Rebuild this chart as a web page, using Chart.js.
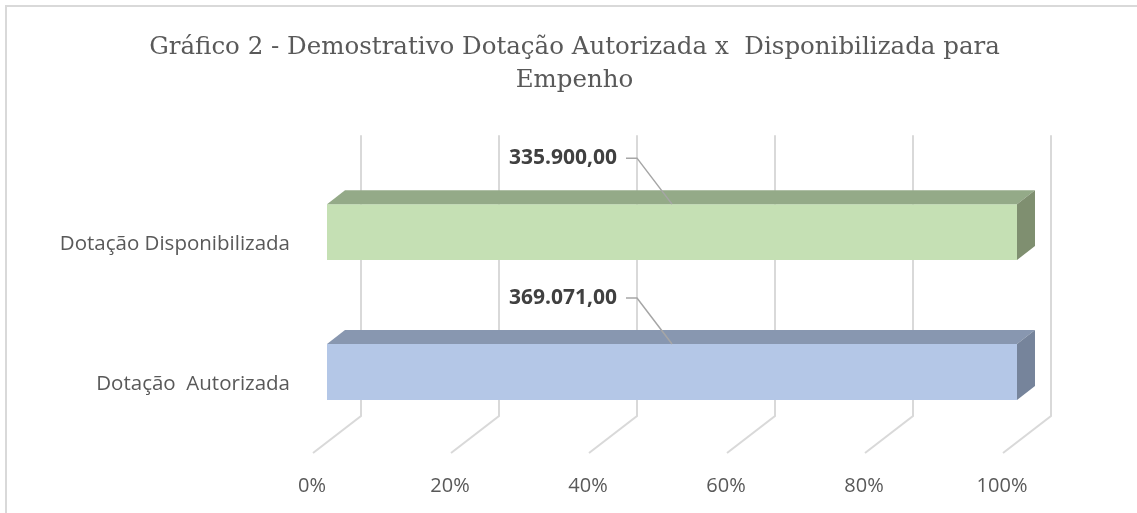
<!DOCTYPE html>
<html>
<head>
<meta charset="utf-8">
<script src="https://cdn.jsdelivr.net/npm/chart.js@4"></script>
<style>
  body { margin: 0; background: #fff; }
  #wrap { width: 1137px; height: 513px; }
</style>
</head>
<body>
<div id="wrap"><canvas id="grafico"></canvas></div>
<script>
// dados
const categorias = ['Dotação Disponibilizada', 'Dotação  Autorizada'];
const valores = [335900, 369071];
const totais = valores.slice(); // 100% empilhado, uma série por categoria
const percentuais = valores.map((v, i) => v / totais[i] * 100);
const ticksX = [0, 20, 40, 60, 80, 100];

const corFrente = ['#c5e0b4', '#b4c7e7'];
const corTopo = ['#94aa88', '#8897b0'];
const corLado = ['#7f8f70', '#76849b'];

// profundidade 3D
const DX = 18, DY = -14;

function formatarBR(v) {
    let partes = v.toFixed(2).split('.');
    partes[0] = partes[0].replace(/\B(?=(\d{3})+(?!\d))/g, '.');
    return partes.join(',');
}

let moldura = {
    id: 'moldura',
    beforeDraw(chart) {
        let ctx = chart.ctx;
        ctx.save();
        ctx.fillStyle = '#ffffff';
        ctx.fillRect(0, 0, chart.width, chart.height);
        ctx.strokeStyle = '#d9d9d9';
        ctx.lineWidth = 2;
        ctx.beginPath();
        ctx.moveTo(6, chart.height);
        ctx.lineTo(6, 6);
        ctx.lineTo(chart.width, 6);
        ctx.stroke();
        ctx.restore();
    }
};

let grade3d = {
    id: 'grade3d',
    beforeDatasetsDraw(chart) {
        let ctx = chart.ctx;
        let area = chart.chartArea;
        let x = chart.scales.x;
        ctx.save();
        ctx.strokeStyle = '#d9d9d9';
        ctx.lineWidth = 2;
        x.ticks.forEach(t => {
            let px = x.getPixelForValue(t.value);
            ctx.beginPath();
            ctx.moveTo(px + 34, area.top - 27);
            ctx.lineTo(px + 34, area.bottom - 26);
            ctx.lineTo(px - 14, area.bottom + 11);
            ctx.stroke();
        });
        ctx.restore();
    }
};

let barras3d = {
    id: 'barras3d',
    afterDatasetsDraw(chart) {
        let ctx = chart.ctx;
        let meta = chart.getDatasetMeta(0);
        ctx.save();
        meta.data.forEach((bar, i) => {
            let left = bar.base, right = bar.x;
            let top = bar.y - bar.height / 2, bottom = bar.y + bar.height / 2;
            // topo
            ctx.fillStyle = corTopo[i];
            ctx.beginPath();
            ctx.moveTo(left, top);
            ctx.lineTo(left + DX, top + DY);
            ctx.lineTo(right + DX, top + DY);
            ctx.lineTo(right, top);
            ctx.closePath();
            ctx.fill();
            // lado
            ctx.fillStyle = corLado[i];
            ctx.beginPath();
            ctx.moveTo(right, top);
            ctx.lineTo(right + DX, top + DY);
            ctx.lineTo(right + DX, bottom + DY);
            ctx.lineTo(right, bottom);
            ctx.closePath();
            ctx.fill();

            // rótulo com linha de chamada
            let ex = (left + right) / 2, ey = top;
            ctx.strokeStyle = '#a6a6a6';
            ctx.lineWidth = 1.5;
            ctx.beginPath();
            ctx.moveTo(ex - 46, ey - 46);
            ctx.lineTo(ex - 35, ey - 46);
            ctx.lineTo(ex, ey);
            ctx.stroke();
            ctx.fillStyle = '#404040';
            ctx.font = 'bold 21px "Open Sans"';
            ctx.textAlign = 'right';
            ctx.textBaseline = 'middle';
            ctx.fillText(formatarBR(valores[i]), ex - 55, ey - 46);
        });
        ctx.restore();
    }
};

let grafico = new Chart(document.getElementById('grafico').getContext('2d'), {
    type: 'bar',
    data: {
        labels: categorias,
        datasets: [{
            label: 'Dotação',
            data: percentuais,
            backgroundColor: corFrente,
            borderWidth: 0,
            categoryPercentage: 1,
            barPercentage: 0.4,
        }],
    },
    options: {
        indexAxis: 'y',
        responsive: true,
        maintainAspectRatio: false,
        animation: false,
        layout: {
            padding: { left: 12, right: 0, top: 0, bottom: 0 },
        },
        plugins: {
            title: {
                display: true,
                text: ['Gráfico 2 - Demostrativo Dotação Autorizada x  Disponibilizada para', 'Empenho'],
                color: '#595959',
                font: { family: '"DejaVu Serif"', size: 24.5, weight: 'normal', lineHeight: 1.35 },
                padding: { top: 31, bottom: 65 },
            },
            legend: { display: false },
            tooltip: { enabled: false },
        },
        scales: {
            x: {
                stacked: true,
                min: 0,
                max: 100,
                afterBuildTicks(scale) {
                    scale.ticks = ticksX.map(v => ({ value: v }));
                },
                afterFit(scale) { scale.height = 71; },
                grid: { display: false, drawTicks: false },
                border: { display: false },
                ticks: {
                    callback: v => v + '%',
                    color: '#595959',
                    font: { family: '"Open Sans"', size: 20 },
                    padding: 32,
                    labelOffset: -15,
                    maxRotation: 0,
                },
            },
            y: {
                stacked: true,
                afterFit(scale) { scale.width = 315; },
                grid: { display: false, drawTicks: false },
                border: { display: false },
                ticks: {
                    color: '#595959',
                    font: { family: '"Open Sans"', size: 20.5 },
                    padding: 37,
                    labelOffset: 12,
                },
            },
            // eixo vazio à direita só para reservar a profundidade 3D
            y2: {
                type: 'linear',
                position: 'right',
                afterFit(scale) { scale.width = 120; },
                grid: { display: false, drawTicks: false },
                border: { display: false },
                ticks: { display: false },
            },
        },
    },
    plugins: [moldura, grade3d, barras3d],
});
</script>
</body>
</html>
